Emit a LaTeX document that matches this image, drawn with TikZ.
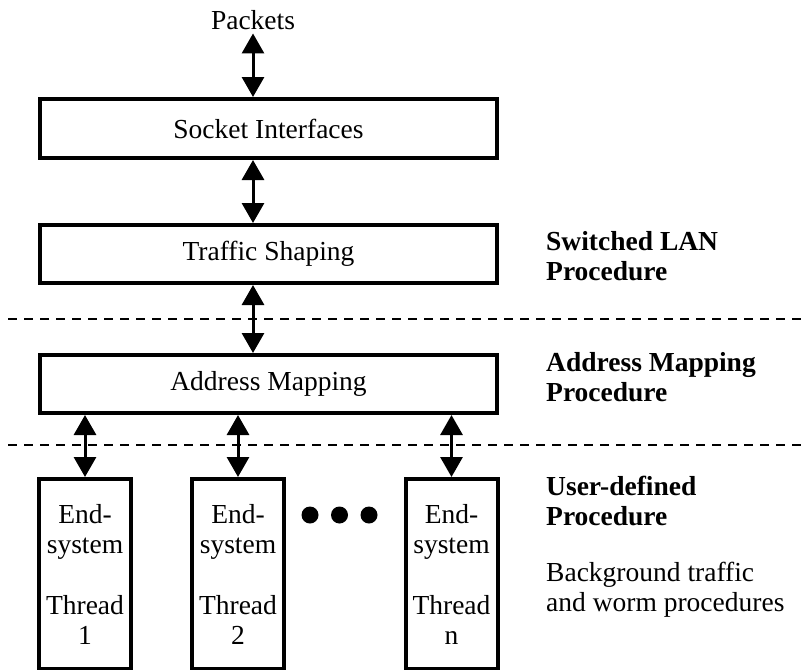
\documentclass[tikz,border=0pt]{standalone}
\usepackage{fontspec}
\setmainfont{Liberation Serif}
\usetikzlibrary{arrows.meta}
\begin{document}
\begin{tikzpicture}[x=1pt,y=-1pt,
  txt/.style={font=\fontsize{27.5}{30}\selectfont},
  box/.style={draw,line width=4pt,inner sep=0pt,txt},
  thbox/.style={box,minimum width=92pt,minimum height=190pt,align=center,anchor=north},
  biarrow/.style={line width=3pt,{Triangle[width=22pt,length=20pt]}-{Triangle[width=22pt,length=20pt]}},
  sep/.style={dashed,line width=1.3pt,dash pattern=on 9pt off 7pt},
  lbl/.style={txt,align=left,anchor=west,inner sep=0pt},
  blbl/.style={lbl,font=\fontsize{27.5}{30}\selectfont\bfseries},
  dot/.style={circle,fill,inner sep=0pt,minimum size=17pt}]
\useasboundingbox (0,0) rectangle (805,669);
\node[txt,anchor=base,inner sep=3pt] (packets) at (253,30) {Packets};
\node[box,minimum width=457pt,minimum height=59pt] (socket) at (268.5,128.5) {Socket Interfaces};
\node[box,minimum width=457pt,minimum height=58pt] (traffic) at (268.5,254) {Traffic Shaping};
\node[box,minimum width=457pt,minimum height=58pt] (addr) at (268.5,384) {Address Mapping};
\node[thbox] (t1) at (85,477) {End-\\system\\[31pt]Thread\\1};
\node[thbox] (t2) at (238,477) {End-\\system\\[31pt]Thread\\2};
\node[thbox] (t3) at (451.5,477) {End-\\system\\[31pt]Thread\\n};
\node[dot] (d1) at (310,515) {};
\node[dot] (d2) at (339.5,515) {};
\node[dot] (d3) at (369,515) {};
\draw[biarrow] (packets.south) -- (packets.south |- socket.north);
\draw[biarrow] (socket.south -| packets) -- (traffic.north -| packets);
\draw[biarrow] (traffic.south -| packets) -- (addr.north -| packets);
\draw[biarrow] (addr.south -| t1.north) -- (t1.north);
\draw[biarrow] (addr.south -| t2.north) -- (t2.north);
\draw[biarrow] (addr.south -| t3.north) -- (t3.north);
\coordinate (s1a) at (8,319);
\coordinate (s1b) at (805,319);
\coordinate (s2a) at (8,445);
\coordinate (s2b) at (805,445);
\draw[sep] (s1a) -- (s1b);
\draw[sep] (s2a) -- (s2b);
\node[blbl] (l1) at (546,256) {Switched LAN\\Procedure};
\node[blbl] (l2) at (546,377) {Address Mapping\\Procedure};
\node[blbl] (l3) at (546,501) {User-defined\\Procedure};
\node[lbl] (l4) at (546,590) {Background traffic\\and worm procedures};
\end{tikzpicture}
\end{document}
